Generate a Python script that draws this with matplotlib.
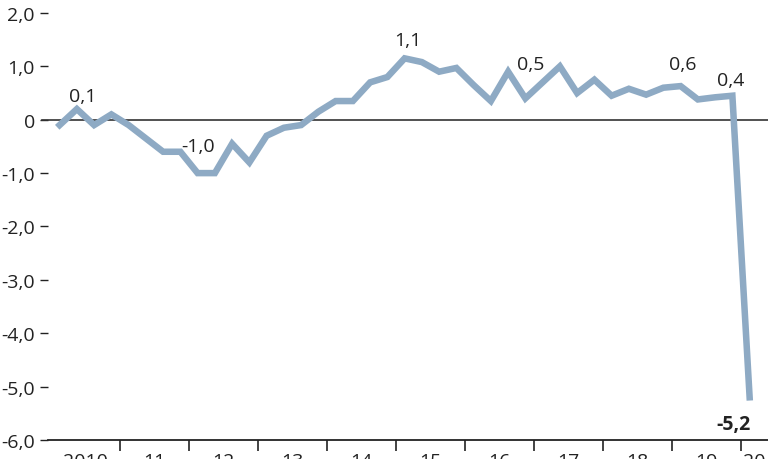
import matplotlib
matplotlib.use("Agg")
import matplotlib.pyplot as plt
import numpy as np

# Quarterly values, 2010 Q1 .. 2020 Q1
values = [-0.1, 0.2, -0.1, 0.1, -0.1, -0.35, -0.6, -0.6, -1.0, -1.0,
          -0.45, -0.8, -0.3, -0.15, -0.1, 0.15, 0.35, 0.35, 0.7, 0.8,
          1.15, 1.08, 0.9, 0.97, 0.65, 0.35, 0.9, 0.4, 0.7, 1.0,
          0.5, 0.75, 0.45, 0.58, 0.47, 0.6, 0.63, 0.38, 0.42, 0.45,
          -5.2]
start_year = 2010
year_labels = ["2010", "11", "12", "13", "14", "15", "16", "17", "18", "19", "20"]
y_ticks = [2, 1, 0, -1, -2, -3, -4, -5, -6]
y_tick_labels = ["2,0", "1,0", "0", "-1,0", "-2,0", "-3,0", "-4,0", "-5,0", "-6,0"]
annotations = [("0,1", 1), ("-1,0", 8), ("1,1", 20), ("0,5", 26), ("0,6", 36), ("0,4", 39)]
final_label = "-5,2"

plt.rcParams['font.family'] = ['Open Sans', 'DejaVu Sans']

W, H = 768, 460
fig = plt.figure(figsize=(W / 100, H / 100), dpi=100)
left_px = 48
ax = fig.add_axes([left_px / W, 19 / H, 1 - left_px / W, (441 - 3.3) / H])

x = start_year + (np.arange(len(values)) + 0.5) / 4
ax.plot(x, values, color="#8eaac4", lw=4.7, solid_joinstyle="miter", zorder=3)

ax.set_xlim(2010 - 3 / 69, 2010 + 717 / 69)
ax.set_ylim(-6, 2.2)

# zero line
ax.axhline(0, xmin=-0.009, xmax=1, color="#333333", lw=1.2, clip_on=False, zorder=2)

for s in ["top", "right", "left"]:
    ax.spines[s].set_visible(False)
ax.spines["bottom"].set_linewidth(1.3)
ax.spines["bottom"].set_color("#222222")

ax.set_yticks(y_ticks)
ax.set_yticklabels(y_tick_labels)
ax.tick_params(axis="y", length=5.5, width=1.0, pad=4, labelsize=14, colors="#222222")

# year boundary ticks and year labels (minor at midpoints)
years = np.arange(start_year, start_year + len(year_labels))
ax.set_xticks(years[1:])
ax.set_xticklabels([])
ax.tick_params(axis="x", which="major", length=8, width=1.2, direction="out", colors="#222222")
mids = list(years[:-1] + 0.5) + [years[-1] + 0.19]
ax.set_xticks(mids, minor=True)
ax.set_xticklabels(year_labels, minor=True)
ax.tick_params(axis="x", which="minor", length=0, pad=9, labelsize=14, colors="#222222")

# value annotations
offsets = {"0,1": (0.08, 0.25), "-1,0": (0.0, 0.5), "1,1": (0.04, 0.35),
           "0,5": (0.32, 0.15), "0,6": (0.03, 0.42), "0,4": (-0.03, 0.3)}
for txt, idx in annotations:
    dx, dy = offsets[txt]
    ax.text(x[idx] + dx, values[idx] + dy, txt, ha="center", va="center",
            fontsize=14, color="#222222")
ax.text(x[-1] - 0.23, values[-1] - 0.5, final_label, ha="center", va="center",
        fontsize=14, fontweight="bold", color="#222222")

fig.savefig("out.png", dpi=100)
